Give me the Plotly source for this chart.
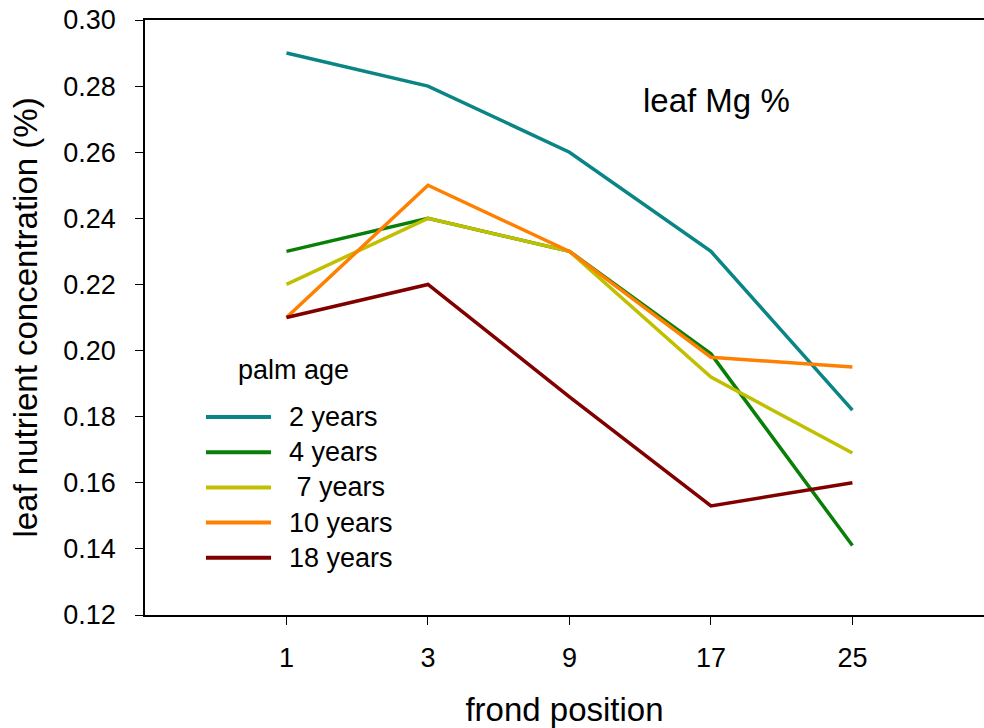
import plotly.graph_objects as go

frond_positions = ["1", "3", "9", "17", "25"]
series_names = ["2 years", "4 years", "\u00a07 years", "10 years", "18 years"]
mg_2y = [0.290, 0.280, 0.260, 0.230, 0.182]
mg_4y = [0.230, 0.240, 0.230, 0.199, 0.141]
mg_7y = [0.220, 0.240, 0.230, 0.192, 0.169]
mg_10y = [0.210, 0.250, 0.230, 0.198, 0.195]
mg_18y = [0.210, 0.220, 0.186, 0.153, 0.160]
colors = ["#0a8585", "#088008", "#c0c000", "#ff8000", "#800000"]

FONT = "Liberation Sans, Arial, sans-serif"
xpos = list(range(1, len(frond_positions) + 1))

fig = go.Figure()
for i, (name, vals) in enumerate(zip(series_names, [mg_2y, mg_4y, mg_7y, mg_10y, mg_18y])):
    fig.add_trace(go.Scatter(
        x=xpos, y=vals, mode="lines", name=name,
        line=dict(color=colors[i], width=3.5),
        showlegend=False,
    ))

# Manual key (legend) in paper coordinates
plot_left, plot_w, plot_bottom, plot_h = 145, 839, 615, 595
def px_x(p):
    return (p - plot_left) / plot_w
def px_y(p):
    return (plot_bottom - p) / plot_h

shapes = []
annotations = []
row0, row_step = 417, 35.2
for i, name in enumerate(series_names):
    yy = px_y(row0 + i * row_step)
    shapes.append(dict(type="line", xref="paper", yref="paper",
                       x0=px_x(206), x1=px_x(271), y0=yy, y1=yy,
                       line=dict(color=colors[i], width=4)))
    annotations.append(dict(text=name, xref="paper", yref="paper",
                            x=px_x(287), y=yy, xanchor="left", yanchor="middle",
                            showarrow=False, font=dict(size=27, family=FONT)))
annotations.append(dict(text="palm age", xref="paper", yref="paper",
                        x=px_x(236), y=px_y(370), xanchor="left", yanchor="middle",
                        showarrow=False, font=dict(size=27, family=FONT)))
annotations.append(dict(text="leaf Mg %", xref="paper", yref="paper",
                        x=px_x(716), y=px_y(101), xanchor="center", yanchor="middle",
                        showarrow=False, font=dict(size=33, family=FONT)))

fig.update_layout(
    width=984, height=728,
    margin=dict(l=145, r=0, t=20, b=113),
    paper_bgcolor="white", plot_bgcolor="white",
    font=dict(family=FONT, color="black", size=27),
    showlegend=False,
    shapes=shapes,
    annotations=annotations,
    xaxis=dict(
        range=[0, 5.93], tickmode="array", tickvals=xpos, ticktext=frond_positions,
        showgrid=False, zeroline=False, showline=True, linecolor="black", linewidth=1.5,
        mirror=True, ticks="outside", ticklen=8, tickcolor="black",
        tickfont=dict(size=27, family=FONT), ticklabelstandoff=10,
        title=dict(text="frond position", font=dict(size=33, family=FONT), standoff=26),
        automargin=False,
    ),
    yaxis=dict(
        range=[0.12, 0.30], dtick=0.02, tickformat=".2f",
        showgrid=False, zeroline=False, showline=True, linecolor="black", linewidth=1.5,
        ticks="outside", ticklen=8, tickcolor="black",
        tickfont=dict(size=27, family=FONT), ticklabelstandoff=14,
        title=dict(text="leaf nutrient concentration (%)", font=dict(size=33, family=FONT), standoff=16),
        automargin=False,
    ),
)

fig.write_html("out.html")
